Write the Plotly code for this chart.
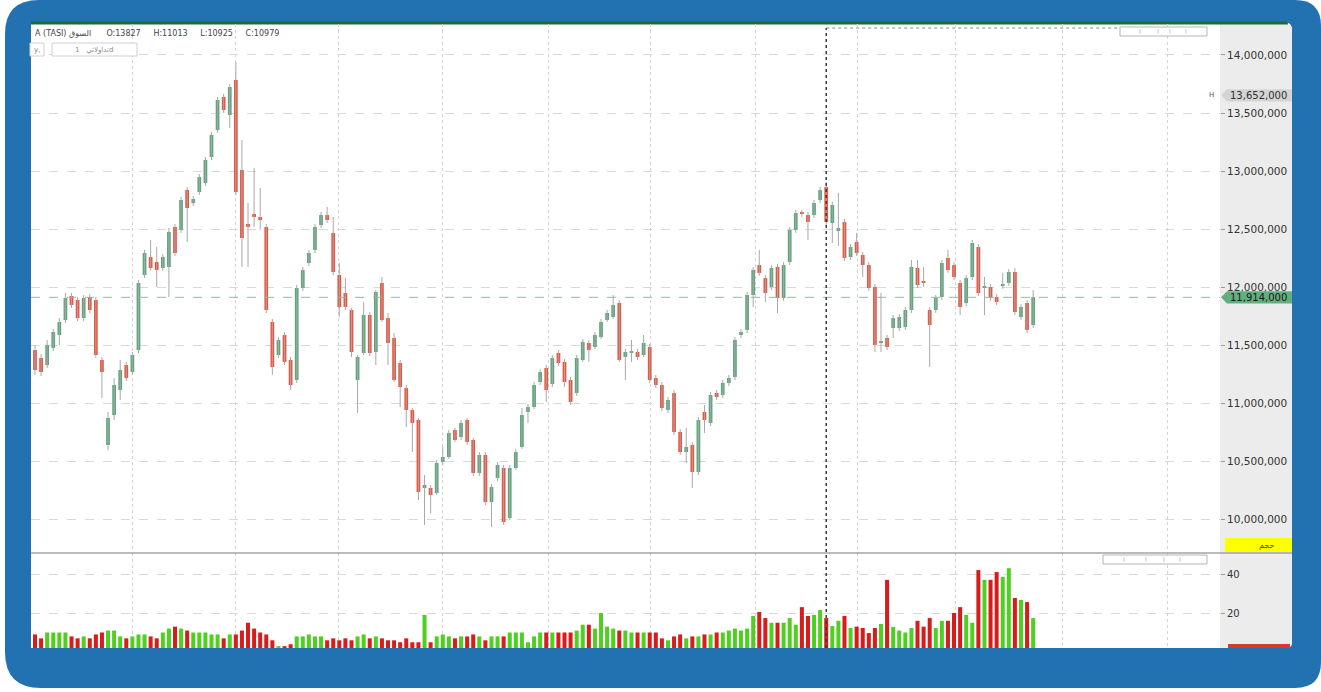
import plotly.graph_objects as go

W, H = 1321, 692

# ---------------- data (prices in thousands) ----------------
opens = [11461, 11392, 11332, 11478, 11590, 11719, 11926, 11891, 11736, 11917, 11891, 11375, 10643, 10902, 11117, 11332, 11272, 11461,
         12106, 12261, 12218, 12167, 12175, 12519, 12494, 12838, 12726, 12821, 12898, 13122, 13354, 13638, 13483, 13784, 13010, 12545, 12631, 12605, 12519,
         11702, 11418, 11590, 11375, 11203, 11995, 12210, 12322, 12537, 12623,
         12468, 12106, 11951, 11805, 11203, 11435, 11762, 11444, 12037, 11736, 11564, 11349, 11134, 10945, 10858, 10273, 10273, 10230, 10497, 10540,
         10772, 10712, 10858, 10686, 10402, 10557, 10153, 10359, 10445, 10015, 10445, 10626, 10927, 10970, 11186, 11306, 11168, 11435, 11358, 11203,
         11091, 11375, 11521, 11487, 11573, 11719, 11745, 11865, 11401, 11435, 11444, 11418, 11487, 11220,
         11160, 10945, 11091, 10755, 10583, 10643, 10411, 10927, 10833, 11091, 11074, 11177, 11228, 11590, 11633, 11934, 12192, 12080, 12003, 12175,
         11908, 12218, 12494, 12649, 12623, 12623, 12752, 12864, 12554, 12485, 12562, 12261, 12390, 12278, 12192, 12003, 11521, 11564, 11650, 11650,
         11659, 11805, 12167, 12055, 11805, 11805, 11917, 12253, 12192, 12037, 11865, 12089, 12347, 11995, 12003, 11917, 12012, 12037, 12132, 11745,
         11865, 11676]
closes = [11289, 11272, 11504, 11616, 11702, 11908, 11848, 11736, 11908, 11805, 11418, 11272, 10876, 11160, 11289, 11220, 11418, 12037,
          12296, 12167, 12149, 12261, 12476, 12296, 12752, 12683, 12760, 12950, 13096, 13311, 13612, 13526, 13724, 12821, 12425, 12519, 12605, 12580, 11805,
          11315, 11547, 11358, 11160, 11995, 12149, 12296, 12519, 12623, 12580,
          12132, 11831, 11831, 11444, 11401, 11762, 11435, 11960, 11719, 11521, 11203, 11142, 10945, 10833, 10239, 10299, 10213, 10488, 10540, 10747,
          10686, 10833, 10669, 10402, 10557, 10153, 10282, 10471, 9981, 10445, 10583, 10902, 10970, 11160, 11272, 11117, 11392, 11349, 11186, 11013,
          11392, 11530, 11461, 11590, 11702, 11779, 11848, 11375, 11444, 11452, 11401, 11521, 11203, 11160,
          10962, 11031, 10755, 10583, 10626, 10411, 10858, 10858, 11074, 11056, 11177, 11220, 11547, 11616, 11934, 12149, 12124, 11951, 12167, 11908,
          12192, 12494, 12640, 12631, 12562, 12726, 12838, 12562, 12709, 12511, 12253, 12347, 12296, 12192, 11995, 11504, 11538, 11487, 11736, 11745,
          11805, 12175, 12020, 12037, 11676, 11908, 12210, 12149, 12089, 11831, 12080, 12382, 11951, 12012, 11908, 11874, 12029, 12132, 11788, 11831,
          11633, 11914]
highs = [11504, 11427, 11547, 11642, 11736, 11951, 11951, 11917, 11934, 11943, 11917, 11401, 10927, 11220, 11375, 11358, 11444, 12063,
         12322, 12408, 12347, 12287, 12511, 12545, 12778, 12864, 12786, 12976, 13122, 13337, 13638, 13664, 13750, 13939, 13268, 12726, 13027, 12855, 12545,
         11728, 11573, 11616, 11401, 12020, 12175, 12322, 12545, 12649, 12692,
         12605, 12210, 12080, 11822, 11418, 11874, 11788, 11977, 12089, 11779, 11607, 11375, 11160, 10962, 10876, 10385, 10299, 10514, 10626, 10772,
         10790, 10858, 10876, 10704, 10583, 10583, 10308, 10497, 10471, 10471, 10609, 10962, 10996, 11186, 11297, 11332, 11418, 11461, 11383, 11228,
         11418, 11556, 11547, 11616, 11728, 11805, 11934, 11891, 11470, 11547, 11470, 11590, 11513, 11246,
         11186, 11056, 11117, 10781, 10790, 10669, 10884, 10988, 11099, 11117, 11203, 11246, 11573, 11642, 11960, 12175, 12322, 12106, 12192, 12201,
         12218, 12519, 12666, 12666, 12649, 12752, 12864, 12907, 12735, 12812, 12588, 12373, 12468, 12304, 12218, 12029, 11951, 11590, 11762, 11771,
         11831, 12236, 12236, 12175, 11831, 11934, 12236, 12322, 12218, 12063, 12106, 12408, 12373, 12089, 12029, 11943, 12124, 12158, 12167, 11857,
         11891, 11977]
lows = [11246, 11237, 11306, 11452, 11504, 11693, 11822, 11710, 11710, 11779, 11392, 11048, 10600, 10858, 11031, 11194, 11246, 11435,
        12080, 12141, 12003, 12141, 11917, 12270, 12468, 12390, 12700, 12795, 12872, 13096, 13328, 13500, 13371, 12795, 12175, 12175, 12519, 12494, 11779,
        11246, 11392, 11332, 11117, 11177, 11969, 12184, 12296, 12511, 12554,
        12106, 11745, 11805, 11401, 10919, 11418, 11409, 11332, 11702, 11332, 11186, 10970, 10798, 10583, 10170, 9955, 10058, 10213, 10471, 10523,
        10669, 10686, 10643, 10377, 10377, 10127, 9938, 10334, 9955, 9998, 10428, 10609, 10833, 10953, 11160, 11013, 11142, 11323, 11142, 10988,
        11065, 11358, 11358, 11470, 11556, 11702, 11728, 11358, 11203, 11358, 11375, 11401, 11177, 11134,
        10936, 10919, 10729, 10557, 10488, 10273, 10385, 10747, 10807, 11031, 11048, 11151, 11203, 11564, 11607, 11831, 12098, 11874, 11977, 11779,
        11883, 12192, 12468, 12605, 12408, 12597, 12726, 12537, 12382, 12356, 12227, 12235, 12270, 12089, 11969, 11444, 11444, 11461, 11564, 11624,
        11633, 11779, 11995, 12003, 11315, 11779, 11891, 12124, 12063, 11762, 11840, 12063, 11926, 11762, 11883, 11848, 11986, 12012, 11762, 11719,
        11607, 11650]
volumes = [9, 7, 10, 10, 10, 10, 8, 7, 8, 7, 9, 10, 11, 11, 8, 7, 8, 9,
           9, 8, 7, 10, 12, 13, 12, 11, 10, 10, 10, 9, 9, 7, 9, 9, 11, 15, 12, 10, 9,
           6, 3, 3, 4, 8, 8, 9, 8, 8, 6,
           7, 6, 7, 6, 8, 9, 7, 8, 7, 6, 6, 5, 7, 5, 5, 19, 5, 8, 9, 8,
           7, 8, 8, 9, 8, 6, 8, 8, 8, 10, 10, 10, 5, 8, 10, 10, 10, 10, 10, 10,
           11, 14, 14, 12, 20, 13, 12, 11, 11, 10, 10, 10, 10, 10,
           7, 6, 8, 9, 7, 8, 8, 9, 9, 10, 10, 11, 12, 11, 12, 18.5, 20.5, 17.4, 15, 15,
           15, 17.4, 14, 23, 18.5, 19, 21.5, 17.4, 13.3, 16, 18.5, 12.3, 13, 12.3, 9.7, 12.3, 14.4, 37, 12.8, 11,
           10, 12.3, 16, 13, 17.4, 12.3, 16, 16, 20, 23, 19, 15, 42, 37, 37, 41, 38.5, 43, 27.7, 26.7,
           25.6, 17.4]

price_ticks = [10000, 10500, 11000, 11500, 12000, 12500, 13000, 13500, 14000]
price_tick_labels = ["10,000,000", "10,500,000", "11,000,000", "11,500,000", "12,000,000",
                     "12,500,000", "13,000,000", "13,500,000", "14,000,000"]
volume_ticks = [20, 40]
volume_tick_labels = ["20", "40"]
time_grid = [16.1, 32.9, 49.8, 67.0, 84.3, 101.1, 118.3, 135.1, 151.2, 168.8, 186.0]
last_price = 11914
last_price_label = "11,914,000"
high_marker = 13652
high_marker_label = "13,652,000"
crosshair_index = 130
crosshair_end_index = 178
header_text = "A (TASI) السوق      O:13827     H:11013     L:10925     C:10979"
volume_label = "حجم"

n = len(closes)
idx = list(range(n))


def px(p):
    return p / W


def py(p):
    return 1 - p / H


def rrect(x0, y0, x1, y1, rtl=0, rtr=0, rbr=0, rbl=0):
    def P(x, y):
        return f"{px(x):.6f},{py(y):.6f}"
    s = f"M {P(x0 + rtl, y0)} L {P(x1 - rtr, y0)} "
    if rtr:
        s += f"Q {P(x1, y0)} {P(x1, y0 + rtr)} "
    s += f"L {P(x1, y1 - rbr)} "
    if rbr:
        s += f"Q {P(x1, y1)} {P(x1 - rbr, y1)} "
    s += f"L {P(x0 + rbl, y1)} "
    if rbl:
        s += f"Q {P(x0, y1)} {P(x0, y1 - rbl)} "
    s += f"L {P(x0, y0 + rtl)} "
    if rtl:
        s += f"Q {P(x0, y0)} {P(x0 + rtl, y0)} "
    return s + "Z"


fig = go.Figure()

# wicks (gray)
wick_x, wick_y = [], []
for i, (h, l) in enumerate(zip(highs, lows)):
    wick_x += [i, i, None]
    wick_y += [l, h, None]
fig.add_trace(go.Scatter(x=wick_x, y=wick_y, mode="lines",
                         line=dict(color="#a8a8a8", width=1),
                         hoverinfo="skip", showlegend=False))

fig.add_trace(go.Candlestick(
    x=idx, open=opens, high=highs, low=lows, close=closes,
    increasing=dict(fillcolor="#5ea77e", line=dict(color="#5ea77e", width=0)),
    decreasing=dict(fillcolor="#e9553f", line=dict(color="#e9553f", width=0)),
    whiskerwidth=0, showlegend=False, hoverinfo="skip"))

vol_colors = ["#4fcf1f" if c >= o else "#d81b1b" for o, c in zip(opens, closes)]
fig.add_trace(go.Bar(x=idx, y=volumes, yaxis="y2", width=0.66,
                     marker=dict(color=vol_colors, line=dict(width=0)),
                     showlegend=False, hoverinfo="skip"))

shapes = []
# blue frame and inner panel
shapes.append(dict(type="path", xref="paper", yref="paper", layer="below",
                   path=rrect(5, 0, W, 688, 34, 26, 26, 36),
                   fillcolor="#2271b1", line=dict(width=0)))
shapes.append(dict(type="path", xref="paper", yref="paper", layer="below",
                   path=rrect(31, 22, 1292, 648, 0, 8, 6, 0),
                   fillcolor="white", line=dict(width=0)))
shapes.append(dict(type="path", xref="paper", yref="paper", layer="below",
                   path=rrect(1220, 24, 1292, 648, 0, 7, 6, 0),
                   fillcolor="#ececec", line=dict(width=0)))
shapes.append(dict(type="path", xref="paper", yref="paper", layer="below",
                   path=rrect(31, 21.5, 1288, 24.5, 0, 2, 0, 0),
                   fillcolor="#1d6b3a", line=dict(width=0)))
# pane separator
shapes.append(dict(type="line", xref="paper", yref="paper", x0=px(31), x1=px(1292),
                   y0=py(553), y1=py(553), line=dict(color="#a5a5a5", width=1.5)))
# last price line
shapes.append(dict(type="line", xref="paper", yref="y", x0=px(31), x1=px(1220),
                   y0=last_price, y1=last_price, line=dict(color="#93b9a2", width=1, dash="dash")))
# crosshair
shapes.append(dict(type="line", xref="x", yref="paper", x0=crosshair_index, x1=crosshair_index,
                   y0=py(648), y1=py(28), line=dict(color="#3a3a3a", width=1.5, dash="dot")))
shapes.append(dict(type="line", xref="x", yref="paper", x0=crosshair_index, x1=crosshair_end_index,
                   y0=py(28), y1=py(28), line=dict(color="#8a8a8a", width=1, dash="dot")))
# right axis labels
hh = 52
shapes.append(dict(type="path", xref="paper", yref="y",
                   path=(f"M {px(1221)},{high_marker} L {px(1227)},{high_marker + hh} L {px(1292)},{high_marker + hh} "
                         f"L {px(1292)},{high_marker - hh} L {px(1227)},{high_marker - hh} Z"),
                   fillcolor="#d4d4d4", line=dict(width=0)))
shapes.append(dict(type="path", xref="paper", yref="y",
                   path=(f"M {px(1221)},{last_price} L {px(1227)},{last_price + hh} L {px(1292)},{last_price + hh} "
                         f"L {px(1292)},{last_price - hh} L {px(1227)},{last_price - hh} Z"),
                   fillcolor="#62ae7e", line=dict(width=0)))
shapes.append(dict(type="rect", xref="paper", yref="paper", x0=px(1225), x1=px(1292),
                   y0=py(552), y1=py(538), fillcolor="#ffff00", line=dict(width=0)))
shapes.append(dict(type="rect", xref="paper", yref="paper", x0=px(1228), x1=px(1290),
                   y0=py(648), y1=py(644), fillcolor="#d63a2f", line=dict(width=0)))
# toolbars
for (x0, x1, y0, y1, divs) in [(1120, 1207, 27, 36, [1140, 1158, 1170, 1186]),
                               (1103, 1207, 555, 564, [1124, 1146, 1164, 1180])]:
    shapes.append(dict(type="rect", xref="paper", yref="paper", x0=px(x0), x1=px(x1),
                       y0=py(y1), y1=py(y0), fillcolor="white", line=dict(color="#b5b5b5", width=1)))
    for d in divs:
        shapes.append(dict(type="line", xref="paper", yref="paper", x0=px(d), x1=px(d),
                           y0=py(y1 - 2), y1=py(y0 + 2), line=dict(color="#c8c8c8", width=1)))
# header small boxes
shapes.append(dict(type="rect", xref="paper", yref="paper", x0=px(30), x1=px(44),
                   y0=py(56), y1=py(43), fillcolor="white", line=dict(color="#d0d0d0", width=1)))
shapes.append(dict(type="rect", xref="paper", yref="paper", x0=px(52), x1=px(137),
                   y0=py(56), y1=py(43), fillcolor="white", line=dict(color="#d0d0d0", width=1)))

annotations = [
    dict(xref="paper", yref="paper", x=px(33), y=py(33), xanchor="left", yanchor="middle",
         text=header_text, showarrow=False, font=dict(size=8, color="#454545", family="DejaVu Sans")),
    dict(xref="paper", yref="paper", x=px(37), y=py(49.5), xanchor="center", yanchor="middle",
         text="y,", showarrow=False, font=dict(size=7, color="#777", family="DejaVu Sans")),
    dict(xref="paper", yref="paper", x=px(94), y=py(49.5), xanchor="center", yanchor="middle",
         text="تداولاتي   1d", showarrow=False, font=dict(size=7, color="#8a8a8a", family="DejaVu Sans")),
    dict(xref="paper", yref="y", x=px(1228), y=high_marker, xanchor="left", yanchor="middle",
         text=high_marker_label, showarrow=False, font=dict(size=10, color="#303030", family="DejaVu Sans")),
    dict(xref="paper", yref="y", x=px(1216), y=high_marker, xanchor="right", yanchor="middle",
         text="H", showarrow=False, font=dict(size=7, color="#555", family="DejaVu Sans")),
    dict(xref="paper", yref="y", x=px(1228), y=last_price, xanchor="left", yanchor="middle",
         text=last_price_label, showarrow=False, font=dict(size=10, color="#1a1a1a", family="DejaVu Sans")),
    dict(xref="paper", yref="paper", x=px(1266), y=py(545), xanchor="center", yanchor="middle",
         text=volume_label, showarrow=False, font=dict(size=8, color="#4a4a00", family="DejaVu Sans")),
]

fig.update_layout(
    width=W, height=H, margin=dict(l=0, r=0, t=0, b=0),
    paper_bgcolor="white", plot_bgcolor="rgba(0,0,0,0)",
    showlegend=False, hovermode=False, boxgap=0.12,
    shapes=shapes, annotations=annotations,
    xaxis=dict(domain=[px(31), px(1220)], range=[-0.657, 194.7], anchor="y",
               tickvals=time_grid, showticklabels=False, ticks="",
               showgrid=True, gridcolor="#d2d2d2", griddash="dot", gridwidth=1,
               zeroline=False, showline=False, rangeslider=dict(visible=False), fixedrange=True),
    yaxis=dict(domain=[py(553), py(24)], range=[9714, 14266], side="right", anchor="x",
               tickvals=price_ticks, ticktext=price_tick_labels,
               ticks="outside", ticklen=4, tickcolor="#9a9a9a",
               tickfont=dict(size=10.5, color="#333333", family="DejaVu Sans"),
               showgrid=True, gridcolor="#d9d9d9", griddash="dash", gridwidth=1,
               zeroline=False, showline=False, fixedrange=True),
    yaxis2=dict(domain=[py(648), py(553)], range=[2.05, 50.77], side="right", anchor="x",
                tickvals=volume_ticks, ticktext=volume_tick_labels,
                ticks="outside", ticklen=4, tickcolor="#9a9a9a",
                tickfont=dict(size=10, color="#333333", family="DejaVu Sans"),
                showgrid=True, gridcolor="#d9d9d9", griddash="dash", gridwidth=1,
                zeroline=False, showline=False, fixedrange=True),
)

fig.write_html("out.html", config={"displayModeBar": False},
               post_script="document.body.style.margin='0';document.body.style.overflow='hidden';")
